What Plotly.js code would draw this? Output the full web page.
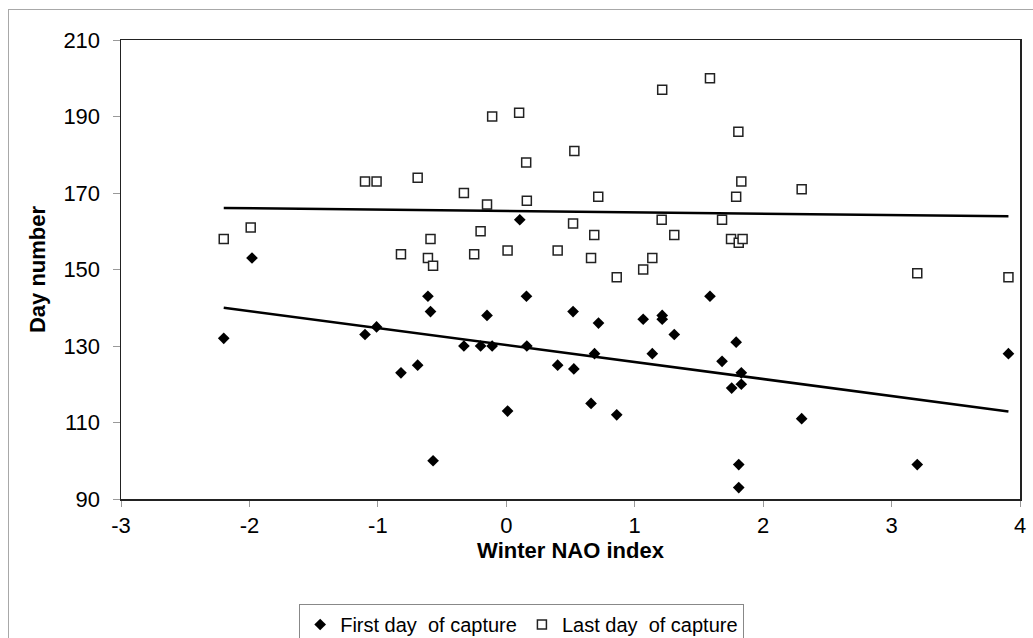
<!DOCTYPE html>
<html>
<head>
<meta charset="utf-8">
<script src="https://cdn.plot.ly/plotly-3.0.1.min.js"></script>
<style>
  html, body { margin: 0; padding: 0; background: #fff; overflow: hidden; }
  #frame { position: absolute; left: 8px; top: 9px; width: 1100px; height: 700px; border: 1px solid #a8a8a8; box-sizing: border-box; }
  #chart { position: absolute; left: 0; top: 0; width: 1033px; height: 638px; }
</style>
</head>
<body>
<div id="frame"></div>
<div id="chart"></div>
<script>
// Winter NAO index and first day of capture
const firstNAO = [-2.20, -1.98, -1.10, -1.01, -0.82, -0.69, -0.61, -0.59, -0.57, -0.33, -0.20, -0.15, -0.11, 0.01, 0.105, 0.157, 0.16, 0.40, 0.52, 0.526, 0.66, 0.687, 0.718, 0.86, 1.066, 1.137, 1.214, 1.214, 1.308, 1.586, 1.68, 1.755, 1.79, 1.81, 1.81, 1.83, 1.83, 2.30, 3.20, 3.91];
const firstDay = [132, 153, 133, 135, 123, 125, 143, 139, 100, 130, 130, 138, 130, 113, 163, 143, 130, 125, 139, 124, 115, 128, 136, 112, 137, 128, 138, 137, 133, 143, 126, 119, 131, 99, 93, 123, 120, 111, 99, 128];

// Winter NAO index and last day of capture
const lastNAO = [-2.20, -1.99, -1.10, -1.01, -0.82, -0.69, -0.61, -0.59, -0.57, -0.33, -0.25, -0.20, -0.15, -0.11, 0.01, 0.10, 0.155, 0.16, 0.40, 0.52, 0.53, 0.66, 0.685, 0.716, 0.86, 1.066, 1.137, 1.21, 1.214, 1.308, 1.586, 1.68, 1.75, 1.79, 1.807, 1.81, 1.83, 1.84, 2.30, 3.20, 3.91];
const lastDay = [158, 161, 173, 173, 154, 174, 153, 158, 151, 170, 154, 160, 167, 190, 155, 191, 178, 168, 155, 162, 181, 153, 159, 169, 148, 150, 153, 163, 197, 159, 200, 163, 158, 169, 186, 157, 173, 158, 171, 149, 148];

const seriesNames = ['First day\u00A0\u00A0of capture', 'Last day\u00A0\u00A0of capture'];
const xTicks = [-3, -2, -1, 0, 1, 2, 3, 4];
const yTicks = [90, 110, 130, 150, 170, 190, 210];

function linfit(xs, ys) {
  const n = xs.length;
  let sx = 0, sy = 0, sxx = 0, sxy = 0;
  for (let i = 0; i < n; i++) { sx += xs[i]; sy += ys[i]; sxx += xs[i] * xs[i]; sxy += xs[i] * ys[i]; }
  const b = (n * sxy - sx * sy) / (n * sxx - sx * sx);
  const a = (sy - b * sx) / n;
  const x0 = Math.min(...xs), x1 = Math.max(...xs);
  return { x: [x0, x1], y: [a + b * x0, a + b * x1] };
}
const fitFirst = linfit(firstNAO, firstDay);
const fitLast = linfit(lastNAO, lastDay);

const font = 'Liberation Sans, Arial, sans-serif';

const traces = [
  { x: firstNAO, y: firstDay, type: 'scatter', mode: 'markers', name: seriesNames[0],
    marker: { symbol: 'diamond', size: 9, color: '#000' } },
  { x: lastNAO, y: lastDay, type: 'scatter', mode: 'markers', name: seriesNames[1],
    marker: { symbol: 'square', size: 9, color: '#fff', line: { color: '#222', width: 1.5 } } },
  { x: fitFirst.x, y: fitFirst.y, type: 'scatter', mode: 'lines', showlegend: false,
    line: { color: '#000', width: 2.5 }, hoverinfo: 'skip' },
  { x: fitLast.x, y: fitLast.y, type: 'scatter', mode: 'lines', showlegend: false,
    line: { color: '#000', width: 2.5 }, hoverinfo: 'skip' }
];

const layout = {
  width: 1033, height: 638,
  margin: { l: 121, r: 13, t: 40, b: 139 },
  paper_bgcolor: 'rgba(0,0,0,0)', plot_bgcolor: '#fff',
  font: { family: font, size: 20, color: '#000' },
  showlegend: true,
  xaxis: {
    range: [-3, 4], tickvals: xTicks, ticktext: xTicks.map(String),
    showgrid: false, zeroline: false,
    showline: true, linecolor: '#222', linewidth: 1.5, mirror: true,
    ticks: 'outside', ticklen: 6, tickcolor: '#999', tickwidth: 1,
    tickfont: { size: 22 }, ticklabelstandoff: 0,
    title: { text: '<b>Winter NAO index</b>', font: { size: 22 }, standoff: 5 }
  },
  yaxis: {
    range: [90, 210], tickvals: yTicks, ticktext: yTicks.map(String),
    showgrid: false, zeroline: false,
    showline: true, linecolor: '#222', linewidth: 1.5, mirror: true,
    ticks: 'outside', ticklen: 7, tickcolor: '#999', tickwidth: 1,
    tickfont: { size: 22 }, ticklabelstandoff: 8,
    title: { text: '<b>Day number</b>', font: { size: 22 }, standoff: 11 }
  },
  legend: {
    orientation: 'h', xref: 'container', yref: 'container',
    x: 0.505, xanchor: 'center', y: 1 - 604 / 638, yanchor: 'top',
    bordercolor: '#888', borderwidth: 1, bgcolor: '#fff',
    font: { size: 20 }, itemsizing: 'trace', tracegroupgap: 0, itemwidth: 30
  }
};

Plotly.newPlot('chart', traces, layout, { displayModeBar: false, staticPlot: true });
</script>
</body>
</html>
